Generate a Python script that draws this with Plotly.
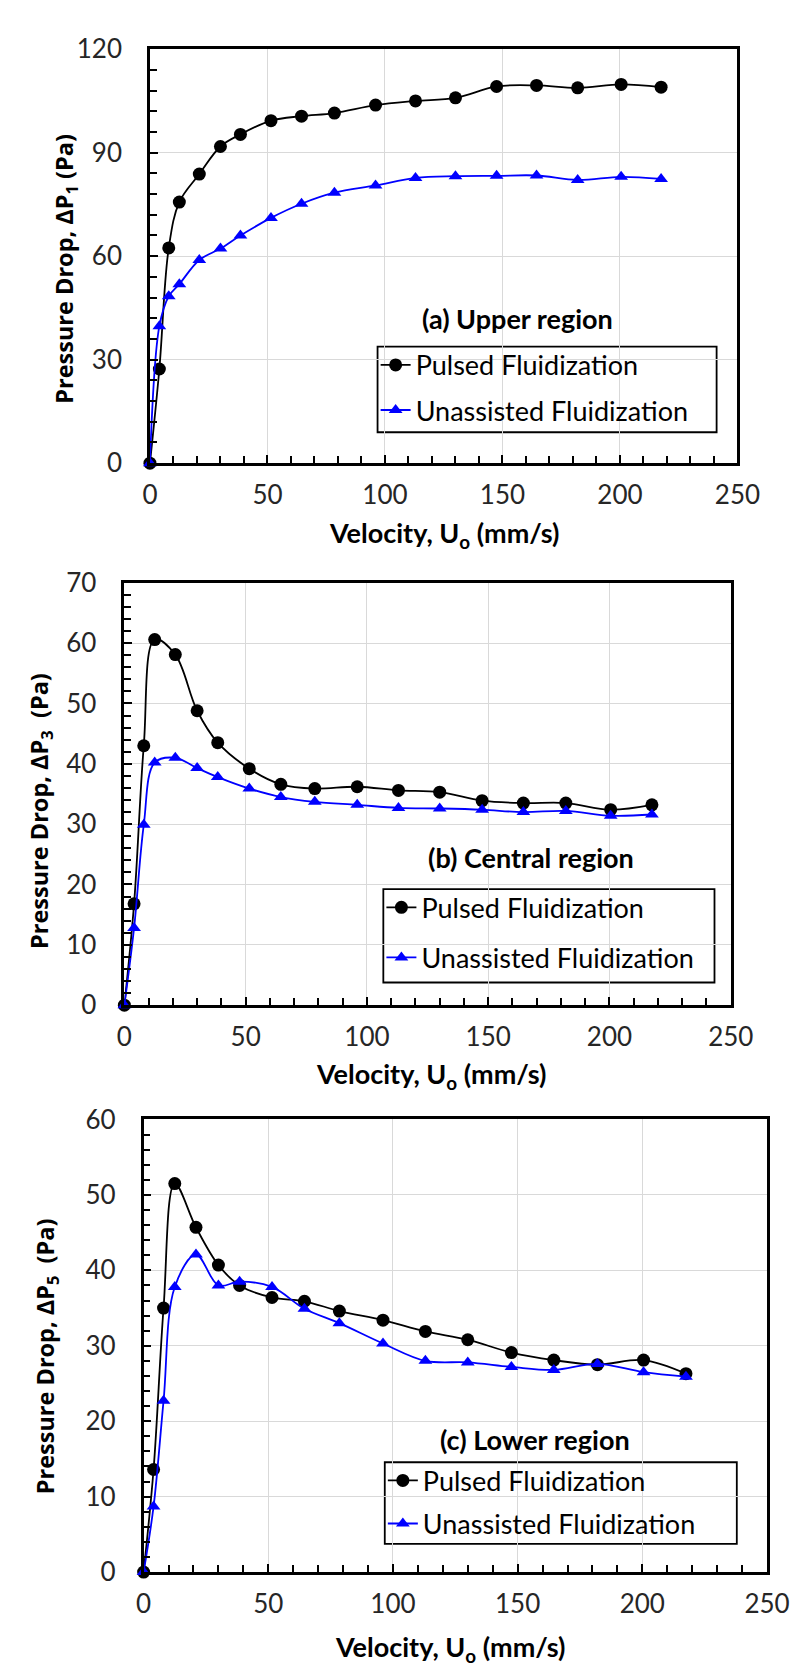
import plotly.graph_objects as go

# ---------------- data ----------------
velocity = [0, 4, 8, 12.5, 21, 30, 38.5, 51.5, 64.5, 78.5, 96, 113, 130, 147.5, 164.5, 182, 200.5, 217.5]

upper_pulsed = [0, 27.3, 62.4, 75.7, 83.8, 91.8, 95.3, 99.3, 100.6, 101.5, 103.8, 105.0, 105.9, 109.2, 109.5, 108.8, 109.8, 109.0]
upper_unassisted = [0, 39.7, 48.4, 51.9, 58.9, 62.2, 66.0, 71.1, 75.2, 78.4, 80.5, 82.7, 83.2, 83.3, 83.4, 82.1, 83.0, 82.4]

central_pulsed = [0, 16.8, 43.0, 60.6, 58.1, 48.8, 43.5, 39.2, 36.6, 35.9, 36.2, 35.6, 35.3, 33.9, 33.5, 33.5, 32.4, 33.2]
central_unassisted = [0, 12.8, 29.9, 40.2, 41.0, 39.3, 37.8, 35.9, 34.5, 33.7, 33.2, 32.7, 32.6, 32.4, 32.0, 32.2, 31.4, 31.6]

lower_pulsed = [0, 13.6, 35.0, 51.5, 45.7, 40.7, 38.0, 36.4, 35.9, 34.6, 33.4, 31.9, 30.8, 29.1, 28.1, 27.5, 28.1, 26.3]
lower_unassisted = [0, 8.7, 22.7, 37.8, 42.1, 38.0, 38.5, 37.8, 34.9, 33.0, 30.3, 28.0, 27.8, 27.2, 26.8, 27.6, 26.5, 25.9]

series_names = ["Pulsed Fluidization", "Unassisted Fluidization"]
region_labels = ["(a) Upper region", "(b) Central region", "(c) Lower region"]
y_titles = ["Pressure Drop, \u0394P<sub>1</sub> (Pa)",
            "Pressure Drop, \u0394P<sub>3</sub>  (Pa)",
            "Pressure Drop, \u0394P<sub>5</sub>  (Pa)"]
x_title = "Velocity, U<sub>o</sub> (mm/s)"
y_max = [120, 70, 60]
y_dtick = [30, 10, 10]
y_minor = [6, 2, 2]

# ---------------- layout geometry (pixels) ----------------
W, H = 807, 1672
def fx(p): return p / W
def fy(p): return 1 - p / H

panels = [
    dict(x=(139.3, 750.3), y=(446.7, 24.7), lab=(522, 299), leg=(376, 328, 728.6, 415.2), gap=7,
         ytit=(51.8, 248.7), xtit=(445, 519)),
    dict(x=(112.7, 743.3), y=(999.3, 568.7), lab=(536, 849), leg=(382, 881, 726.4, 976.2), gap=12,
         ytit=(25.3, 801), xtit=(432, 1071.5)),
    dict(x=(132.7, 781.0), y=(1577.3, 1115.8), lab=(539.5, 1442), leg=(383.5, 1465.3, 749.6, 1548.5), gap=5,
         ytit=(31.8, 1357.7), xtit=(451, 1655)),
]

data_sets = [(upper_pulsed, upper_unassisted), (central_pulsed, central_unassisted), (lower_pulsed, lower_unassisted)]

SANS = "Lato, Open Sans, sans-serif"
TICKFONT = dict(family=SANS, size=26, color="#262626")
fig = go.Figure()
layout = dict(width=W, height=H, autosize=False, margin=dict(l=0, r=0, t=0, b=0),
              paper_bgcolor="white", plot_bgcolor="white", showlegend=True)
annotations = []
shapes = []

for i, (pan, (pul, una)) in enumerate(zip(panels, data_sets)):
    sfx = "" if i == 0 else str(i + 1)
    xa, ya = "x" + sfx, "y" + sfx
    lg = "legend" + sfx
    fig.add_trace(go.Scatter(x=velocity, y=pul, name=series_names[0], xaxis=xa, yaxis=ya,
                             mode="lines+markers", line=dict(color="black", width=1.8, shape="spline", smoothing=1),
                             marker=dict(symbol="circle", size=13, color="black"),
                             cliponaxis=False, legend=lg, legendgroup="p" + sfx))
    fig.add_trace(go.Scatter(x=velocity, y=una, name=series_names[1], xaxis=xa, yaxis=ya,
                             mode="lines+markers", line=dict(color="#0000FF", width=1.8, shape="spline", smoothing=1),
                             marker=dict(symbol="triangle-up", size=12, color="#0000FF"),
                             cliponaxis=False, legend=lg, legendgroup="u" + sfx))
    layout["xaxis" + sfx] = dict(
        domain=[fx(pan["x"][0]), fx(pan["x"][1])], anchor=ya, range=[0, 250], dtick=50,
        showgrid=True, gridcolor="#d9d9d9", gridwidth=1, zeroline=False,
        showline=True, linecolor="black", linewidth=2.5, mirror=True,
        ticks="inside", ticklen=8, tickwidth=2, tickcolor="black",
        minor=dict(dtick=10, ticks="inside", ticklen=7, tickwidth=2, tickcolor="black", showgrid=False),
        tickfont=TICKFONT, ticklabelstandoff=7)
    layout["yaxis" + sfx] = dict(
        domain=[fy(pan["y"][0]), fy(pan["y"][1])], anchor=xa, range=[0, y_max[i]], dtick=y_dtick[i],
        showgrid=True, gridcolor="#d9d9d9", gridwidth=1, zeroline=False,
        showline=True, linecolor="black", linewidth=2.5, mirror=True,
        ticks="inside", ticklen=8, tickwidth=2, tickcolor="black",
        minor=dict(dtick=y_minor[i], ticks="inside", ticklen=7, tickwidth=2, tickcolor="black", showgrid=False),
        tickfont=TICKFONT, ticklabelstandoff=20)
    L, T, R, B = pan["leg"]
    layout[lg] = dict(x=fx(L - 2), y=fy(T - 6), xanchor="left", yanchor="top",
                      bgcolor="rgba(0,0,0,0)", borderwidth=0, itemwidth=30,
                      tracegroupgap=pan["gap"], font=dict(family=SANS, size=27, color="black"))
    shapes.append(dict(type="rect", xref="paper", yref="paper", x0=fx(L), x1=fx(R), y0=fy(B), y1=fy(T),
                       line=dict(color="black", width=1.8), fillcolor="white", layer="below"))
    annotations.append(dict(text=region_labels[i], x=fx(pan["lab"][0]), y=fy(pan["lab"][1]),
                            xref="paper", yref="paper", showarrow=False, xanchor="center", yanchor="middle",
                            font=dict(family=SANS, size=27, color="black", weight="bold")))
    annotations.append(dict(text=y_titles[i], x=fx(pan["ytit"][0]), y=fy(pan["ytit"][1]), textangle=-90,
                            xref="paper", yref="paper", showarrow=False, xanchor="center", yanchor="middle",
                            font=dict(family="Open Sans, DejaVu Sans, sans-serif", size=23.5, color="black", weight="bold")))
    annotations.append(dict(text=x_title, x=fx(pan["xtit"][0]), y=fy(pan["xtit"][1]),
                            xref="paper", yref="paper", showarrow=False, xanchor="center", yanchor="middle",
                            font=dict(family=SANS, size=27, color="black", weight="bold")))

layout["annotations"] = annotations
layout["shapes"] = shapes
fig.update_layout(**layout)
fig.write_html("out.html")
